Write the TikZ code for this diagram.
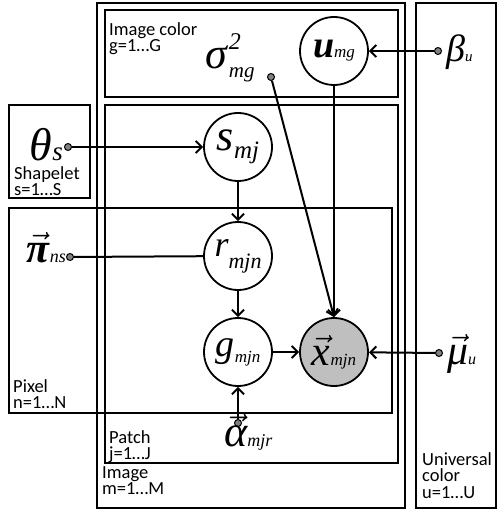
\documentclass[tikz,border=0pt]{standalone}
\usepackage{graphicx}
\usepackage{amsmath}
\usepackage{fontspec}
\newfontfamily\labfont{Carlito}
\newfontfamily\tim{Liberation Serif}
\newcommand\fs[1]{\fontsize{#1}{#1}\selectfont}
% italic letter of size #1
\newcommand\il[2]{{\tim\itshape\fs{#1}#2}}
% bold italic letter
\newcommand\bil[2]{{\tim\bfseries\itshape\fs{#1}#2}}
% vector letter: scale #1, base size #2, letter #3
\newcommand\vl[3]{\scalebox{#1}{$\vec{\hbox{\tim\itshape\fs{#2}#3}}$}}
\newcommand\bvl[3]{\scalebox{#1}{$\vec{\hbox{\tim\bfseries\itshape\fs{#2}#3}}$}}
\usetikzlibrary{arrows.meta}
\begin{document}
\begin{tikzpicture}[x=1pt,y=-1pt,
  plate/.style={draw,line width=2.2pt},
  var/.style={circle,draw,line width=1.8pt,minimum size=68pt,inner sep=0pt},
  obs/.style={var,fill=black!25},
  hyp/.style={circle,draw,line width=1pt,fill=black!50,minimum size=7pt,inner sep=0pt},
  edge/.style={line width=2pt,-{Straight Barb[length=6pt,width=12pt]}},
  plain/.style={line width=2pt},
  lab/.style={font={\labfont\fontsize{18.5}{16.5}\selectfont},align=left,anchor=north west,inner sep=0pt},
  sym/.style={inner sep=0pt},
  ]
\useasboundingbox (0,0) rectangle (498,510);
% plates
\draw[plate] (97,3) rectangle (405,508);
\draw[plate] (416,3) rectangle (496,508);
\draw[plate] (105,10) rectangle (398,97);
\draw[plate] (105,105) rectangle (398,463);
\draw[plate] (9,105) rectangle (90,198);
\draw[plate] (9,208) rectangle (392,413);
% plate labels
\node[lab] (lcolor) at (109,22) {Image color\\g=1…G};
\node[lab] (lshape) at (14,166) {Shapelet\\s=1…S};
\node[lab] (lpixel) at (13,379) {Pixel\\n=1…N};
\node[lab] (lpatch) at (109,430) {Patch\\j=1…J};
\node[lab] (limage) at (102,466) {Image\\m=1…M};
\node[lab] (luniv) at (422,452) {Universal\\color\\u=1…U};
% variables
\node[var] (u) at (334,51) {\bil{38}{u}\il{17}{mg}};
\node[var] (s) at (238,147) {\il{44}{s}\raisebox{-8pt}{\il{25}{mj}}};
\node[var] (r) at (238,256) {\il{36}{r}\raisebox{-12pt}{\il{22}{mjn}}};
\node[var] (g) at (238,352) {\il{38}{g}\raisebox{-6pt}{\il{17}{mjn}}};
\node[obs] (x) at (334,352) {\vl{3.8}{11}{x}\il{17}{mjn}};
% hyperparameter dots
\node[hyp] (bdot) at (438,51) {};
\node[hyp] (mdot) at (439,353) {};
\node[hyp] (tdot) at (68,147) {};
\node[hyp] (pdot) at (70,257) {};
\node[hyp] (adot) at (238,423) {};
\node[hyp] (sgdot) at (271,77) {};
% hyperparameter symbols
\node[sym,anchor=base west] (beta) at (446,62) {\il{38}{β}\il{15}{u}};
\node[sym,anchor=base west] (mu) at (447,364) {\vl{3.8}{11}{μ}\il{16}{u}};
\node[sym,anchor=base east] (theta) at (63,161) {\il{46}{θ}\il{27}{s}};
\node[sym,anchor=base east] (pi) at (66,262) {\bvl{3.8}{11}{π}\il{18}{ns}};
\node[sym,anchor=base west] (alpha) at (224,446) {\vl{4}{11}{α}\il{18}{mjr}};
\node[sym,anchor=base west] (sigma) at (205,69) {\il{44}{σ}\kern2pt\rlap{\raisebox{19pt}{\il{24}{2}}}\raisebox{-9pt}{\il{21}{mg}}};
% edges
\draw[edge] (tdot) -- (s);
\draw[plain] (pdot) -- (r);
\draw[edge] (bdot) -- (u);
\draw[edge] (sgdot) -- (x.north);
\draw[edge] (u) -- (x);
\draw[edge] (s) -- (r);
\draw[edge] (r) -- (g);
\draw[edge] (adot) -- (g);
\draw[edge] (g) -- (x);
\draw[edge] (mdot) -- (x);
\end{tikzpicture}
\end{document}
